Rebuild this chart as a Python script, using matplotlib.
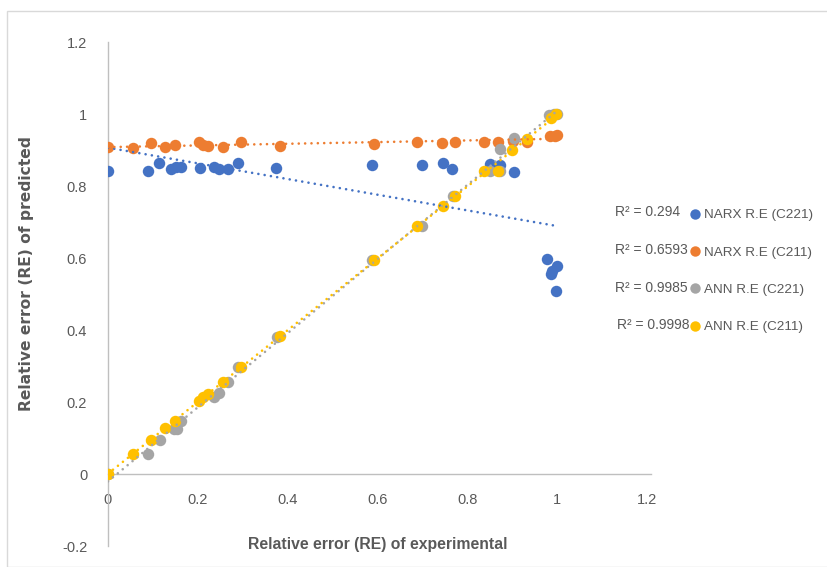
import numpy as np
import matplotlib
matplotlib.use("Agg")
import matplotlib.pyplot as plt
from matplotlib.patches import Rectangle
from matplotlib.lines import Line2D

plt.rcParams['font.family'] = ['Liberation Sans', 'DejaVu Sans']

# ---- data ----
narx221_x = [0.0, 0.088, 0.114, 0.140, 0.151, 0.162, 0.205, 0.237, 0.247, 0.268, 0.290, 0.374,
             0.588, 0.700, 0.745, 0.766, 0.851, 0.873, 0.903, 0.977, 0.999, 0.988, 0.987, 0.998]
narx221_y = [0.842, 0.841, 0.863, 0.848, 0.852, 0.854, 0.851, 0.852, 0.848, 0.848, 0.863, 0.849,
             0.859, 0.858, 0.863, 0.846, 0.861, 0.859, 0.840, 0.596, 0.578, 0.565, 0.555, 0.509]

narx211_x = [0.0, 0.056, 0.095, 0.128, 0.149, 0.203, 0.212, 0.223, 0.255, 0.297, 0.382,
             0.593, 0.688, 0.744, 0.773, 0.836, 0.869, 0.901, 0.932, 0.984, 0.996, 1.0]
narx211_y = [0.907, 0.905, 0.920, 0.909, 0.913, 0.923, 0.914, 0.911, 0.909, 0.921, 0.910,
             0.917, 0.922, 0.920, 0.923, 0.921, 0.923, 0.926, 0.923, 0.940, 0.940, 0.942]

ann221_x = [0.0, 0.088, 0.116, 0.147, 0.153, 0.163, 0.237, 0.247, 0.268, 0.290, 0.376,
            0.588, 0.700, 0.767, 0.851, 0.873, 0.872, 0.903, 0.981, 0.992, 1.0]
ann221_y = [0.0, 0.056, 0.094, 0.126, 0.126, 0.148, 0.215, 0.224, 0.255, 0.298, 0.381,
            0.594, 0.690, 0.772, 0.841, 0.841, 0.902, 0.933, 0.997, 1.0, 1.0]

ann211_x = [0.0, 0.056, 0.095, 0.128, 0.149, 0.203, 0.212, 0.222, 0.255, 0.297, 0.383,
            0.592, 0.688, 0.745, 0.773, 0.836, 0.869, 0.900, 0.932, 0.986, 0.998]
ann211_y = [0.0, 0.056, 0.094, 0.127, 0.148, 0.204, 0.215, 0.222, 0.255, 0.298, 0.383,
            0.595, 0.690, 0.744, 0.772, 0.841, 0.841, 0.900, 0.931, 0.988, 0.999]

series_names = ['NARX R.E (C221)', 'NARX R.E (C211)', 'ANN R.E (C221)', 'ANN R.E (C211)']
r2_labels = ['R² = 0.294', 'R² = 0.6593', 'R² = 0.9985', 'R² = 0.9998']
colors = ['#4472C4', '#ED7D31', '#A5A5A5', '#FFC000']

x_ticks = [0, 0.2, 0.4, 0.6, 0.8, 1, 1.2]
y_ticks = [-0.2, 0, 0.2, 0.4, 0.6, 0.8, 1, 1.2]

W, H = 828, 567
fig = plt.figure(figsize=(W / 100, H / 100), dpi=100)

# chart border
fig.patches.append(Rectangle((7.5 / W, 0), 1.2, 1 - 11 / H, transform=fig.transFigure,
                             fill=False, edgecolor='#D9D9D9', linewidth=1.0))

ax = fig.add_axes([108 / W, 1 - 546 / H, (647 - 108) / W, (546 - 42) / H])
ax.set_xlim(0, 1.2)
ax.set_ylim(-0.2, 1.2)

xs = [narx221_x, narx211_x, ann221_x, ann211_x]
ys = [narx221_y, narx211_y, ann221_y, ann211_y]

handles = []
for i in range(4):
    ax.scatter(xs[i], ys[i], s=68, color=colors[i], zorder=3 + i, linewidths=0)
    handles.append(Line2D([], [], linestyle='none', marker='o', markersize=7.5,
                          markerfacecolor=colors[i], markeredgewidth=0))

for i in range(4):
    k, b = np.polyfit(xs[i], ys[i], 1)
    xx = np.array([0.0, 1.0])
    ax.plot(xx, k * xx + b, color=colors[i], linewidth=1.9,
            linestyle=(0, (0.01, 2.4)), dash_capstyle='round', zorder=10)

for s in ['top', 'right']:
    ax.spines[s].set_visible(False)
ax.spines['bottom'].set_position(('data', 0))
ax.spines['left'].set_position(('data', 0))
for s in ['bottom', 'left']:
    ax.spines[s].set_color('#BFBFBF')
    ax.spines[s].set_linewidth(1.0)
ax.spines['bottom'].set_bounds(0, 1.21)

ax.set_xticks(x_ticks)
ax.set_xticklabels([f'{v:g}' for v in x_ticks])
ax.set_yticks(y_ticks)
ax.set_yticklabels([f'{v:g}' for v in y_ticks])
ax.tick_params(axis='both', length=0, labelsize=10.5, colors='#595959')
ax.tick_params(axis='x', pad=14)
ax.tick_params(axis='y', pad=15)

fig.text(378 / W, 1 - 545 / H, 'Relative error (RE) of experimental', ha='center', va='center',
         fontsize=11.3, fontweight='bold', color='#595959')
fig.text(27 / W, 1 - 274 / H, 'Relative error (RE) of predicted', ha='center', va='center',
         rotation=90, fontsize=11.2, fontweight='bold', color='#595959',
         family=['DejaVu Sans'])

leg = fig.legend(handles, series_names, loc='upper left',
                 bbox_to_anchor=(688 / W, 1 - 209 / H), bbox_transform=fig.transFigure,
                 frameon=False, fontsize=9.7, labelspacing=1.85, handlelength=1.0,
                 handletextpad=0.2, borderpad=0, borderaxespad=0, labelcolor='#595959')

row_y = [212, 250, 288, 325]
row_x = [615, 615, 615, 617]
for i in range(4):
    fig.text(row_x[i] / W, 1 - row_y[i] / H, r2_labels[i], ha='left', va='center',
             fontsize=10, color='#595959')

fig.savefig('out.png', dpi=100)
